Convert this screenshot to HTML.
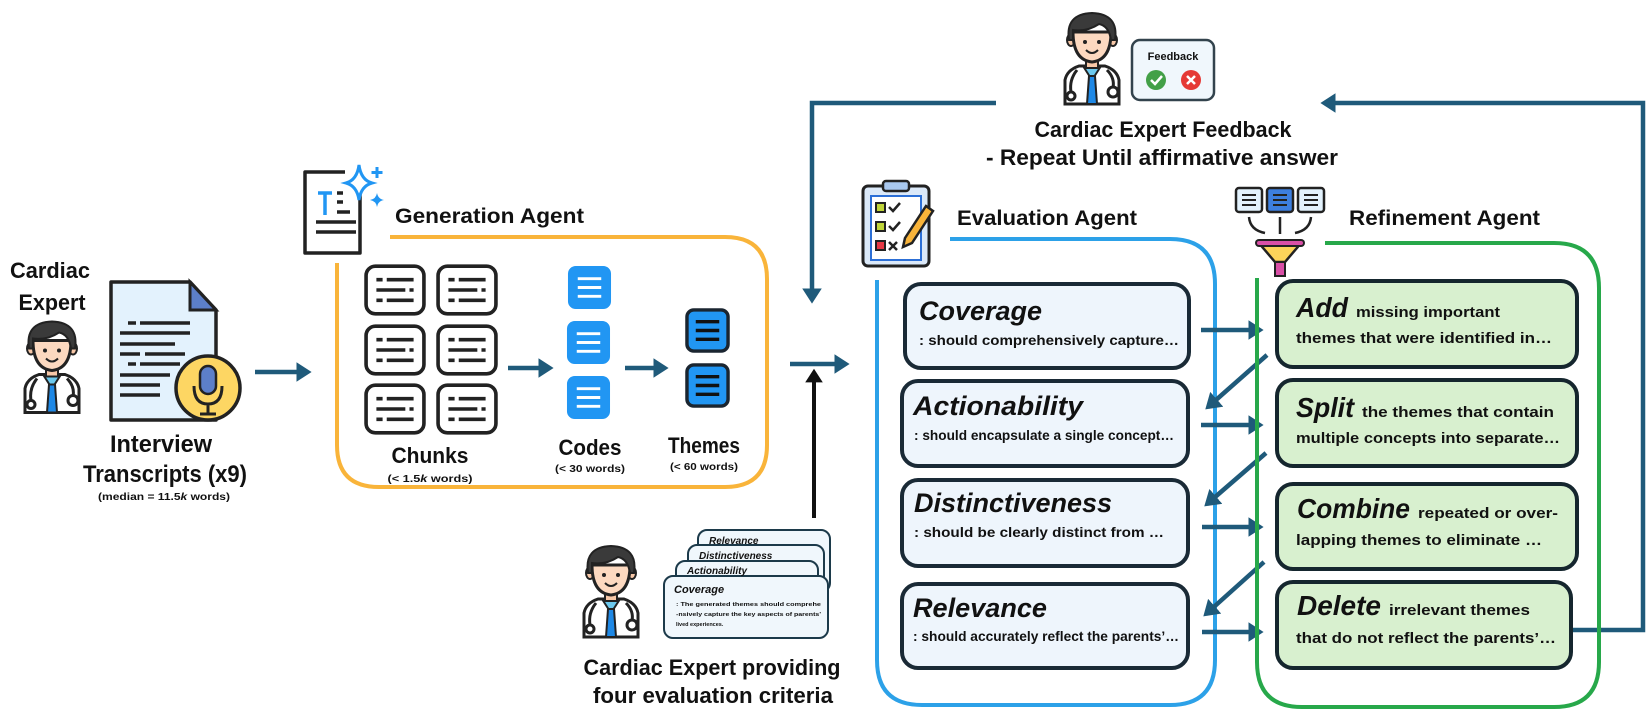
<!DOCTYPE html>
<html><head><meta charset="utf-8"><style>
html,body{margin:0;padding:0;background:#fff;}
svg{display:block;}
text{font-family:"Liberation Sans",sans-serif;font-weight:bold;fill:#111;}
.it{font-style:italic;}
</style></head><body>
<svg width="1648" height="714" viewBox="0 0 1648 714" xmlns="http://www.w3.org/2000/svg">
<defs>
<marker id="ah" markerWidth="5" markerHeight="5" refX="2.6" refY="2.2" orient="auto" markerUnits="strokeWidth">
<path d="M0,0 L3.4,2.2 L0,4.4 Z" fill="#1f5a7a"/></marker>
<marker id="ahk" markerWidth="5" markerHeight="5" refX="2.6" refY="2.2" orient="auto" markerUnits="strokeWidth">
<path d="M0,0 L3.4,2.2 L0,4.4 Z" fill="#111"/></marker>
<symbol id="doc" viewBox="0 0 66 96">
<path d="M6,94 V70 Q8,60 20,56 H46 Q58,60 60,70 V94 Z" fill="#fff" stroke="#222" stroke-width="3"/>
<path d="M24,56 L33,70 L42,56 Z" fill="#6cc9ee" stroke="#222" stroke-width="2"/>
<path d="M30,66 H36 L38,94 H28 Z" fill="#1e88e5" stroke="#222" stroke-width="2"/>
<path d="M18,60 Q10,70 12,82" fill="none" stroke="#222" stroke-width="3"/>
<circle cx="12" cy="86" r="4" fill="none" stroke="#222" stroke-width="3"/>
<path d="M48,60 Q56,68 54,78" fill="none" stroke="#222" stroke-width="3"/>
<circle cx="54" cy="82" r="5" fill="#fff" stroke="#222" stroke-width="3"/>
<rect x="27" y="46" width="12" height="12" fill="#f7c8a8" stroke="#222" stroke-width="2"/>
<ellipse cx="12" cy="30" rx="4" ry="6" fill="#f7c8a8" stroke="#222" stroke-width="2"/>
<ellipse cx="54" cy="30" rx="4" ry="6" fill="#f7c8a8" stroke="#222" stroke-width="2"/>
<path d="M14,22 Q14,50 33,52 Q52,50 52,22 Z" fill="#fcd9c0" stroke="#222" stroke-width="3"/>
<path d="M10,30 Q6,4 33,3 Q60,4 56,30 L52,30 Q50,16 40,14 Q28,22 14,20 L14,30 Z" fill="#3a3a3a" stroke="#222" stroke-width="2"/>
<circle cx="26" cy="32" r="2" fill="#222"/><circle cx="40" cy="32" r="2" fill="#222"/>
<path d="M27,40 Q33,46 39,40" fill="none" stroke="#222" stroke-width="2"/>
</symbol>
<symbol id="chunk" viewBox="0 0 60 50">
<rect x="2" y="2" width="56" height="46" rx="9" fill="#fff" stroke="#222" stroke-width="3.5"/>
<path d="M12,15 H18 M22,15 H48 M12,25 H40 M44,25 H48 M12,35 H18 M22,35 H48" stroke="#222" stroke-width="3.5"/>
</symbol>
<symbol id="code" viewBox="0 0 46 46">
<rect x="1" y="1" width="44" height="44" rx="8" fill="#2196f3"/>
<path d="M11,14 H35 M11,23 H35 M11,32 H35" stroke="#fff" stroke-width="3"/>
</symbol>
<symbol id="theme" viewBox="0 0 46 46">
<rect x="2" y="2" width="42" height="42" rx="7" fill="#2196f3" stroke="#1a2530" stroke-width="3.5"/>
<path d="M11,14 H35 M11,23 H35 M11,32 H35" stroke="#111" stroke-width="3.5"/>
</symbol>
</defs>

<text x="50" y="278" font-size="22" text-anchor="middle" textLength="80" lengthAdjust="spacingAndGlyphs">Cardiac</text>
<text x="52" y="310" font-size="22" text-anchor="middle" textLength="67" lengthAdjust="spacingAndGlyphs">Expert</text>
<use href="#doc" x="19" y="318" width="66" height="97"/>
<path d="M111,282 H190 L216,310 V420 H111 Z" fill="#e3f2fd" stroke="#222" stroke-width="3.5" stroke-linejoin="round"/>
<path d="M190,282 V310 H216 Z" fill="#5c7fc9" stroke="#222" stroke-width="3"/>
<path d="M128,323 H136 M140,323 H190 M120,333 H190 M120,344 H175 M120,354 H140 M145,354 H185 M128,364 H136 M140,364 H180 M120,375 H170 M120,385 H160 M120,395 H160" stroke="#222" stroke-width="3.5"/>
<circle cx="208" cy="388" r="32" fill="#fdd663" stroke="#222" stroke-width="3.5"/>
<rect x="200" y="366" width="16" height="28" rx="8" fill="#5c7fc9" stroke="#222" stroke-width="2.5"/>
<path d="M194,386 Q194,404 208,404 Q222,404 222,386 M208,404 V414 M200,414 H216" fill="none" stroke="#222" stroke-width="3"/>
<text x="161" y="452" font-size="24" text-anchor="middle" textLength="102" lengthAdjust="spacingAndGlyphs">Interview</text>
<text x="165" y="482" font-size="24" text-anchor="middle" textLength="164" lengthAdjust="spacingAndGlyphs">Transcripts (x9)</text>
<text x="164" y="500" font-size="10" text-anchor="middle" textLength="132" lengthAdjust="spacingAndGlyphs">(median = 11.5<tspan font-style="italic">k</tspan> words)</text>

<line x1="255" y1="372" x2="308" y2="372" stroke="#1f5a7a" stroke-width="4.5" marker-end="url(#ah)"/>

<path d="M360,190 V253 H305 V172 H345" fill="#fff" stroke="#222" stroke-width="3.5" stroke-linejoin="round"/>
<path d="M318,193 H332 M325,193 V215" stroke="#2196f3" stroke-width="3.5"/>
<path d="M337,193 H343 M337,202 H343 M337,212 H350 M316,222 H356 M316,232 H356" stroke="#222" stroke-width="3.5"/>
<path d="M359,165 Q361,180 372,183 Q361,186 359,200 Q357,186 346,183 Q357,180 359,165 Z" fill="#fff" stroke="#2196f3" stroke-width="3"/>
<path d="M377,193 Q378,199 384,200 Q378,201 377,207 Q376,201 370,200 Q376,199 377,193 Z" fill="#2196f3"/>
<path d="M377,167 V178 M371.5,172.5 H382.5" stroke="#2196f3" stroke-width="3"/>
<text x="395" y="223" font-size="21" textLength="189" lengthAdjust="spacingAndGlyphs">Generation Agent</text>
<path d="M390,237 H725 Q767,237 767,279 V445 Q767,487 725,487 H379 Q337,487 337,445 V263" fill="none" stroke="#f9b43a" stroke-width="4"/>

<use href="#chunk" x="364" y="264" width="62" height="52"/>
<use href="#chunk" x="436" y="264" width="62" height="52"/>
<use href="#chunk" x="364" y="324" width="62" height="52"/>
<use href="#chunk" x="436" y="324" width="62" height="52"/>
<use href="#chunk" x="364" y="383" width="62" height="52"/>
<use href="#chunk" x="436" y="383" width="62" height="52"/>
<text x="430" y="463" font-size="22" text-anchor="middle" textLength="77" lengthAdjust="spacingAndGlyphs">Chunks</text>
<text x="430" y="482" font-size="10" text-anchor="middle" textLength="85" lengthAdjust="spacingAndGlyphs">(&lt; 1.5<tspan font-style="italic">k</tspan> words)</text>
<line x1="508" y1="368" x2="550" y2="368" stroke="#1f5a7a" stroke-width="4.5" marker-end="url(#ah)"/>
<use href="#code" x="567" y="265" width="45" height="45"/>
<use href="#code" x="566" y="320" width="45" height="45"/>
<use href="#code" x="566" y="375" width="45" height="45"/>
<text x="590" y="455" font-size="22" text-anchor="middle" textLength="63" lengthAdjust="spacingAndGlyphs">Codes</text>
<text x="590" y="472" font-size="10" text-anchor="middle" textLength="70" lengthAdjust="spacingAndGlyphs">(&lt; 30 words)</text>
<line x1="625" y1="368" x2="665" y2="368" stroke="#1f5a7a" stroke-width="4.5" marker-end="url(#ah)"/>
<use href="#theme" x="685" y="308" width="45" height="45"/>
<use href="#theme" x="685" y="363" width="45" height="45"/>
<text x="704" y="453" font-size="22" text-anchor="middle" textLength="72" lengthAdjust="spacingAndGlyphs">Themes</text>
<text x="704" y="470" font-size="10" text-anchor="middle" textLength="68" lengthAdjust="spacingAndGlyphs">(&lt; 60 words)</text>

<line x1="790" y1="364" x2="846" y2="364" stroke="#1f5a7a" stroke-width="4.5" marker-end="url(#ah)"/>
<line x1="814" y1="518" x2="814" y2="372" stroke="#111" stroke-width="4" marker-end="url(#ahk)"/>

<path d="M996,103 H812 V300" fill="none" stroke="#1f5a7a" stroke-width="4.5" marker-end="url(#ah)"/>
<path d="M1571,630 H1643 V103 H1324" fill="none" stroke="#1f5a7a" stroke-width="4.5" marker-end="url(#ah)"/>
<use href="#doc" x="1058" y="10" width="68" height="96"/>
<rect x="1132" y="40" width="82" height="60" rx="8" fill="#f0f7fc" stroke="#33434d" stroke-width="2.5"/>
<text x="1173" y="60" font-size="11" text-anchor="middle">Feedback</text>
<circle cx="1156" cy="80" r="10" fill="#43a047"/>
<path d="M1151,80 L1155,84 L1162,76" fill="none" stroke="#fff" stroke-width="2.5"/>
<circle cx="1191" cy="80" r="10" fill="#e53935"/>
<path d="M1187,76 L1195,84 M1195,76 L1187,84" stroke="#fff" stroke-width="2.5"/>
<text x="1163" y="137" font-size="22" text-anchor="middle" textLength="257" lengthAdjust="spacingAndGlyphs">Cardiac Expert Feedback</text>
<text x="1162" y="165" font-size="22" text-anchor="middle" textLength="352" lengthAdjust="spacingAndGlyphs">- Repeat Until affirmative answer</text>

<rect x="863" y="186" width="66" height="80" rx="5" fill="#dbe9f9" stroke="#222" stroke-width="3"/>
<rect x="871" y="196" width="50" height="64" fill="#fff" stroke="#2c6fd6" stroke-width="2"/>
<rect x="883" y="181" width="26" height="10" rx="3" fill="#a9c8ef" stroke="#222" stroke-width="2.5"/>
<rect x="876" y="203" width="9" height="9" fill="#c0d53a" stroke="#222" stroke-width="2"/>
<rect x="876" y="222" width="9" height="9" fill="#c0d53a" stroke="#222" stroke-width="2"/>
<rect x="876" y="241" width="9" height="9" fill="#e53945" stroke="#222" stroke-width="2"/>
<path d="M889,207 L893,211 L900,203 M889,226 L893,230 L900,222 M889,242 L897,250 M897,242 L889,250" fill="none" stroke="#222" stroke-width="2.5"/>
<path d="M905,238 L926,206 L933,211 L912,243 L903,247 Z" fill="#f9b43a" stroke="#222" stroke-width="2.5"/>
<text x="957" y="225" font-size="21" textLength="180" lengthAdjust="spacingAndGlyphs">Evaluation Agent</text>
<path d="M950,239 H1170 Q1215,239 1215,284 V660 Q1215,705 1170,705 H922 Q877,705 877,660 V280" fill="none" stroke="#2ca1e8" stroke-width="4"/>

<g fill="#eef5fc" stroke="#1a2a36" stroke-width="4">
<rect x="905" y="284" width="284" height="84" rx="16"/>
<rect x="902" y="381" width="286" height="85" rx="16"/>
<rect x="902" y="480" width="286" height="86" rx="16"/>
<rect x="902" y="584" width="286" height="84" rx="16"/>
</g>
<text class="it" x="919" y="320" font-size="27" textLength="123" lengthAdjust="spacingAndGlyphs">Coverage</text>
<text x="919" y="345" font-size="14" textLength="260" lengthAdjust="spacingAndGlyphs">: should comprehensively capture…</text>
<text class="it" x="913" y="415" font-size="27" textLength="170" lengthAdjust="spacingAndGlyphs">Actionability</text>
<text x="914" y="440" font-size="14" textLength="260" lengthAdjust="spacingAndGlyphs">: should encapsulate a single concept…</text>
<text class="it" x="914" y="512" font-size="27" textLength="198" lengthAdjust="spacingAndGlyphs">Distinctiveness</text>
<text x="914" y="537" font-size="14" textLength="250" lengthAdjust="spacingAndGlyphs">: should be clearly distinct from …</text>
<text class="it" x="913" y="617" font-size="27" textLength="134" lengthAdjust="spacingAndGlyphs">Relevance</text>
<text x="913" y="641" font-size="14" textLength="266" lengthAdjust="spacingAndGlyphs">: should accurately reflect the parents’…</text>

<g stroke="#1f5a7a" stroke-width="4.5" marker-end="url(#ah)">
<line x1="1201" y1="330" x2="1260" y2="330"/>
<line x1="1201" y1="425" x2="1260" y2="425"/>
<line x1="1202" y1="527" x2="1260" y2="527"/>
<line x1="1202" y1="632" x2="1260" y2="632"/>
<line x1="1267" y1="355" x2="1208" y2="407"/>
<line x1="1266" y1="453" x2="1207" y2="504"/>
<line x1="1264" y1="562" x2="1206" y2="614"/>
</g>

<rect x="1236" y="188" width="26" height="24" rx="3" fill="#e3f2fd" stroke="#222" stroke-width="2.5"/>
<rect x="1267" y="188" width="26" height="24" rx="3" fill="#3d7fe0" stroke="#222" stroke-width="2.5"/>
<rect x="1298" y="188" width="26" height="24" rx="3" fill="#e3f2fd" stroke="#222" stroke-width="2.5"/>
<path d="M1242,195 H1256 M1242,200 H1256 M1242,205 H1256 M1273,195 H1287 M1273,200 H1287 M1273,205 H1287 M1304,195 H1318 M1304,200 H1318 M1304,205 H1318" stroke="#222" stroke-width="2"/>
<path d="M1249,217 Q1250,230 1265,233 M1280,217 V234 M1311,217 Q1310,230 1295,233" fill="none" stroke="#222" stroke-width="2.5"/>
<path d="M1258,242 H1302 L1285,262 H1275 Z" fill="#fcd45a" stroke="#222" stroke-width="2.5"/>
<rect x="1256" y="240" width="48" height="6" rx="3" fill="#d94fa6" stroke="#222" stroke-width="2"/>
<rect x="1275" y="262" width="10" height="14" fill="#d94fa6" stroke="#222" stroke-width="2"/>
<text x="1349" y="225" font-size="21" textLength="191" lengthAdjust="spacingAndGlyphs">Refinement Agent</text>
<path d="M1325,243 H1554 Q1599,243 1599,288 V662 Q1599,707 1554,707 H1302 Q1257,707 1257,662 V278" fill="none" stroke="#27a84a" stroke-width="4"/>

<g fill="#d8f0cf" stroke="#15262e" stroke-width="4">
<rect x="1277" y="281" width="300" height="86" rx="16"/>
<rect x="1277" y="380" width="300" height="86" rx="16"/>
<rect x="1277" y="484" width="300" height="85" rx="16"/>
<rect x="1277" y="582" width="294" height="86" rx="16"/>
</g>
<text class="it" x="1296" y="317" font-size="28" textLength="52" lengthAdjust="spacingAndGlyphs">Add</text>
<text x="1356" y="317" font-size="15" textLength="144" lengthAdjust="spacingAndGlyphs">missing important</text>
<text x="1296" y="343" font-size="15" textLength="256" lengthAdjust="spacingAndGlyphs">themes that were identified in…</text>
<text class="it" x="1296" y="417" font-size="28" textLength="58" lengthAdjust="spacingAndGlyphs">Split</text>
<text x="1362" y="417" font-size="15" textLength="192" lengthAdjust="spacingAndGlyphs">the themes that contain</text>
<text x="1296" y="443" font-size="15" textLength="264" lengthAdjust="spacingAndGlyphs">multiple concepts into separate…</text>
<text class="it" x="1297" y="518" font-size="28" textLength="113" lengthAdjust="spacingAndGlyphs">Combine</text>
<text x="1418" y="518" font-size="15" textLength="140" lengthAdjust="spacingAndGlyphs">repeated or over-</text>
<text x="1296" y="545" font-size="15" textLength="246" lengthAdjust="spacingAndGlyphs">lapping themes to eliminate  …</text>
<text class="it" x="1297" y="615" font-size="28" textLength="84" lengthAdjust="spacingAndGlyphs">Delete</text>
<text x="1389" y="615" font-size="15" textLength="141" lengthAdjust="spacingAndGlyphs">irrelevant themes</text>
<text x="1296" y="643" font-size="15" textLength="260" lengthAdjust="spacingAndGlyphs">that do not reflect the parents’…</text>

<use href="#doc" x="578" y="543" width="66" height="96"/>
<g fill="#f0f7fc" stroke="#1c3a4a" stroke-width="2">
<rect x="698" y="530" width="132" height="62" rx="9"/>
<rect x="688" y="545" width="136" height="62" rx="9"/>
<rect x="676" y="561" width="142" height="62" rx="9"/>
<rect x="664" y="576" width="164" height="62" rx="9"/>
</g>
<text class="it" x="709" y="544" font-size="10">Relevance</text>
<text class="it" x="699" y="559" font-size="10">Distinctiveness</text>
<text class="it" x="687" y="574" font-size="10">Actionability</text>
<text class="it" x="674" y="593" font-size="11">Coverage</text>
<text x="676" y="606" font-size="5.5" textLength="145" lengthAdjust="spacingAndGlyphs">: The generated themes should  comprehe</text>
<text x="676" y="616" font-size="5.5" textLength="145" lengthAdjust="spacingAndGlyphs">-nsively capture the key aspects of parents'</text>
<text x="676" y="626" font-size="5.5">lived experiences.</text>
<text x="712" y="675" font-size="22" text-anchor="middle" textLength="257" lengthAdjust="spacingAndGlyphs">Cardiac Expert providing</text>
<text x="713" y="703" font-size="22" text-anchor="middle" textLength="240" lengthAdjust="spacingAndGlyphs">four evaluation criteria</text>
</svg>
</body></html>
